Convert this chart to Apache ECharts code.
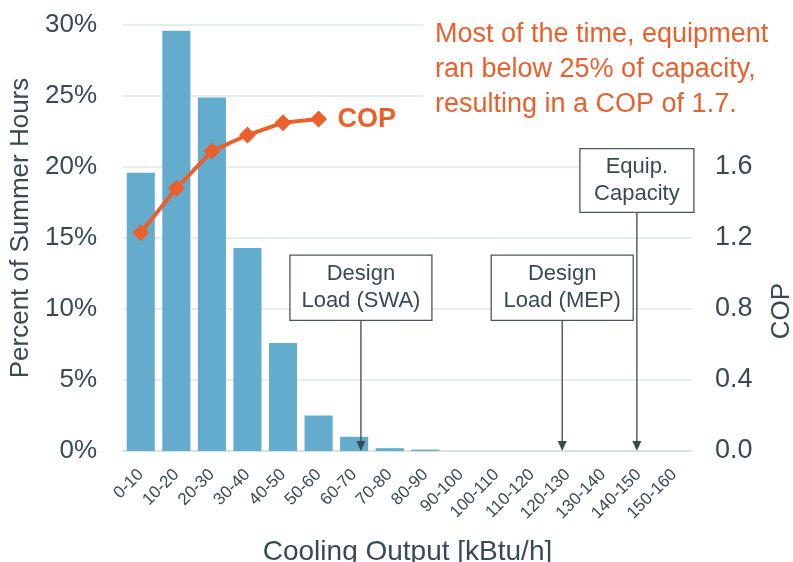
<!DOCTYPE html>
<html>
<head>
<meta charset="utf-8">
<script src="https://cdn.jsdelivr.net/npm/echarts@6/dist/echarts.min.js"></script>
<style>
html,body{margin:0;padding:0;background:#fff;}
#chart{width:793px;height:562px;}
</style>
</head>
<body>
<div id="chart"></div>
<script>
// ---- data ----
var categories = ['0-10','10-20','20-30','30-40','40-50','50-60','60-70','70-80','80-90','90-100','100-110','110-120','120-130','130-140','140-150','150-160'];
var percentHours = [19.6, 29.6, 24.9, 14.3, 7.6, 2.5, 1.0, 0.2, 0.1, 0, 0, 0, 0, 0, 0, 0];
var copValues = [1.23, 1.48, 1.69, 1.78, 1.85, 1.87];
var leftTicks = [0, 5, 10, 15, 20, 25, 30];
var rightTicks = [0.0, 0.4, 0.8, 1.2, 1.6];
// annotations: label, load (kBtu/h), box top %, box bottom %
var annotLabels = ['Design\nLoad (SWA)', 'Design\nLoad (MEP)', 'Equip.\nCapacity'];
var annotLoads = [66.9, 123.5, 144.5];
var annotBoxTop = [13.8, 13.8, 21.3];
var annotBoxBottom = [9.2, 9.2, 16.8];
var noteText = 'Most of the time, equipment\nran below 25% of capacity,\nresulting in a COP of 1.7.';

var FONT = '"Liberation Sans", Arial, Helvetica, sans-serif';
var TXT = '#384b53';
var ORANGE = '#eb5f2a';

var annotData = annotLoads.map(function (v, i) {
  return { value: [v, annotBoxTop[i], annotBoxBottom[i]], name: annotLabels[i] };
});

var chart = echarts.init(document.getElementById('chart'), null, { renderer: 'canvas' });
var option = {
  animation: false,
  backgroundColor: '#ffffff',
  textStyle: { fontFamily: FONT },
  grid: { left: 123, right: 101, top: 25, bottom: 111, containLabel: false, outerBoundsMode: 'none' },
  graphic: [{
    type: 'rect', left: 423, top: 10, z: 10,
    shape: { width: 370, height: 112 },
    style: { fill: '#ffffff' }
  }, {
    type: 'text', left: 435, top: 17, z: 11,
    style: { text: noteText, fontSize: 27, lineHeight: 35, fill: ORANGE, fontFamily: FONT }
  }],
  xAxis: [{
    type: 'category', data: categories, gridIndex: 0,
    axisLine: { show: true, lineStyle: { color: '#d3dee2', width: 1.5 } },
    axisTick: { show: false },
    axisLabel: { interval: 0, rotate: 45, fontSize: 17, color: TXT, margin: 21, fontFamily: FONT },
    name: 'Cooling Output [kBtu/h]', nameLocation: 'middle', nameGap: 87,
    nameTextStyle: { fontSize: 28, color: TXT, fontFamily: FONT }
  }, {
    type: 'value', min: 0, max: 160, show: false, gridIndex: 0
  }],
  yAxis: [{
    type: 'value', min: 0, max: 30, interval: 5,
    axisLine: { show: false }, axisTick: { show: false },
    splitLine: { lineStyle: { color: '#dde7ea', width: 1.5 } },
    axisLabel: {
      fontSize: 26, color: TXT, margin: 26, fontFamily: FONT,
      formatter: function (v) { return leftTicks.indexOf(v) >= 0 ? v + '%' : ''; }
    },
    name: 'Percent of Summer Hours', nameLocation: 'middle', nameGap: 84,
    nameTextStyle: { fontSize: 26, color: TXT, fontFamily: FONT, padding: [0, 0, 0, 20] }
  }, {
    type: 'value', min: 0, max: 2.4, interval: 0.4, position: 'right',
    axisLine: { show: false }, axisTick: { show: false }, splitLine: { show: false },
    axisLabel: {
      fontSize: 27, color: TXT, margin: 23, fontFamily: FONT,
      formatter: function (v) {
        var r = Math.round(v * 10) / 10;
        return rightTicks.indexOf(r) >= 0 ? r.toFixed(1) : '';
      }
    },
    name: 'COP', nameLocation: 'middle', nameGap: 77,
    nameTextStyle: { fontSize: 26, color: TXT, fontFamily: FONT, padding: [0, 146, 0, 0] }
  }],
  series: [{
    type: 'bar', name: 'Percent of Summer Hours', data: percentHours,
    xAxisIndex: 0, yAxisIndex: 0,
    barCategoryGap: '21%',
    itemStyle: { color: '#64acce' }
  }, {
    type: 'line', name: 'COP', data: copValues,
    xAxisIndex: 0, yAxisIndex: 1,
    symbol: 'diamond', symbolSize: 17,
    lineStyle: { color: ORANGE, width: 4 },
    itemStyle: { color: ORANGE },
    endLabel: { show: true, formatter: 'COP', fontSize: 27, fontWeight: 'bold', color: ORANGE, distance: 19, fontFamily: FONT },
    z: 12
  }, {
    type: 'custom', name: 'annotations', data: annotData,
    xAxisIndex: 1, yAxisIndex: 0, clip: false, z: 6,
    renderItem: function (params, api) {
      var x = api.value(0);
      var top = api.coord([x, api.value(1)]);
      var bot = api.coord([x, api.value(2)]);
      var base = api.coord([x, 0]);
      var label = annotLabels[params.dataIndex];
      var px = top[0];
      var hw = params.dataIndex === 2 ? 57 : 71;
      return {
        type: 'group',
        children: [{
          type: 'line',
          shape: { x1: px, y1: bot[1], x2: px, y2: base[1] - 8 },
          style: { stroke: '#3c4a50', lineWidth: 1.3 }
        }, {
          type: 'polygon',
          shape: { points: [[px - 4.5, base[1] - 10], [px + 4.5, base[1] - 10], [px, base[1]]] },
          style: { fill: '#3c4a50' }
        }, {
          type: 'rect',
          shape: { x: px - hw, y: top[1], width: hw * 2, height: bot[1] - top[1] },
          style: { fill: '#ffffff', stroke: '#4a585e', lineWidth: 1.3 }
        }, {
          type: 'text',
          x: px, y: (top[1] + bot[1]) / 2,
          style: {
            text: label, fontSize: 22, lineHeight: 27, fill: TXT, fontFamily: FONT,
            align: 'center', verticalAlign: 'middle'
          }
        }]
      };
    }
  }]
};
chart.setOption(option);
</script>
</body>
</html>
